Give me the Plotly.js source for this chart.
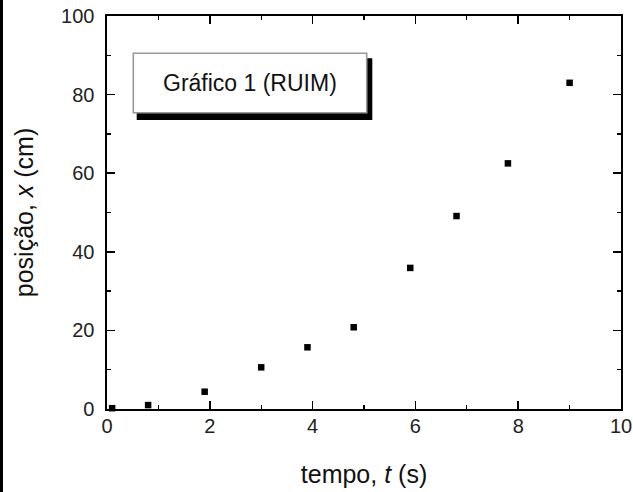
<!DOCTYPE html>
<html>
<head>
<meta charset="utf-8">
<script src="https://cdn.plot.ly/plotly-3.0.1.min.js"></script>
<style>
  html, body { margin: 0; padding: 0; background: #fff; }
  #wrap { position: relative; width: 633px; height: 492px; }
  #chart { width: 633px; height: 492px; }
  #edge { position: absolute; left: 0; top: 0; width: 3px; height: 492px; background: #000; }
</style>
</head>
<body>
<div id="wrap">
  <div id="chart"></div>
  <div id="edge"></div>
</div>
<script>
// Data
const tempo = [0.1, 0.8, 1.9, 3.0, 3.9, 4.8, 5.9, 6.8, 7.8, 9.0];      // t (s)
const posicao = [0.2, 1.0, 4.4, 10.6, 15.7, 20.8, 35.9, 49.1, 62.5, 83.0]; // x (cm)
const xTickVals = [0, 2, 4, 6, 8, 10];
const yTickVals = [0, 20, 40, 60, 80, 100];
const boxLabel = 'Gráfico 1 (RUIM)';

const FONT = 'Liberation Sans, Arial, Helvetica, sans-serif';

const trace = {
  x: tempo,
  y: posicao,
  mode: 'markers',
  type: 'scatter',
  cliponaxis: false,
  marker: { symbol: 'square', size: 6.5, color: '#000' },
  hoverinfo: 'none'
};

const axisCommon = {
  showgrid: false,
  zeroline: false,
  showline: true,
  linecolor: '#000',
  linewidth: 1.6,
  mirror: 'allticks',
  ticks: 'inside',
  ticklen: 8,
  tickwidth: 1.6,
  tickcolor: '#000',
  tickfont: { family: FONT, size: 20, color: '#222' },
  fixedrange: true
};

const layout = {
  width: 633,
  height: 492,
  margin: { l: 107, r: 12, t: 16, b: 83 },
  paper_bgcolor: '#fff',
  plot_bgcolor: '#fff',
  showlegend: false,
  xaxis: Object.assign({}, axisCommon, {
    range: [0, 10],
    tickvals: xTickVals,
    ticktext: xTickVals.map(String),
    ticklabelstandoff: -2,
    minor: { ticks: 'inside', ticklen: 4, dtick: 1, tick0: 0, tickwidth: 1.4, tickcolor: '#000' },
    title: { text: 'tempo, <i>t</i> (s)', font: { family: FONT, size: 25, color: '#111' }, standoff: 30 }
  }),
  yaxis: Object.assign({}, axisCommon, {
    range: [0, 100],
    tickvals: yTickVals,
    ticktext: yTickVals.map(String),
    ticklabelstandoff: 7,
    minor: { ticks: 'inside', ticklen: 4, dtick: 10, tick0: 0, tickwidth: 1.4, tickcolor: '#000' },
    title: { text: 'posição, <i>x</i> (cm)', font: { family: FONT, size: 25, color: '#111' }, standoff: 20 }
  }),
  shapes: [
    // shadow of the label box
    { type: 'rect', xref: 'paper', yref: 'paper',
      x0: (136.7 - 107) / 514, x1: (372.3 - 107) / 514,
      y0: (409 - 120) / 393, y1: (409 - 58.3) / 393,
      fillcolor: '#000', line: { width: 0 }, layer: 'above' },
    // label box
    { type: 'rect', xref: 'paper', yref: 'paper',
      x0: (133.3 - 107) / 514, x1: (366.7 - 107) / 514,
      y0: (409 - 112.7) / 393, y1: (409 - 53.3) / 393,
      fillcolor: '#fff', line: { color: '#999', width: 1.6 }, layer: 'above' }
  ],
  annotations: [
    { xref: 'paper', yref: 'paper',
      x: (250 - 107) / 514, y: (409 - 83) / 393,
      xanchor: 'center', yanchor: 'middle', showarrow: false,
      text: boxLabel, font: { family: FONT, size: 23, color: '#111' } }
  ]
};

Plotly.newPlot('chart', [trace], layout, { staticPlot: true, displayModeBar: false });
</script>
</body>
</html>
